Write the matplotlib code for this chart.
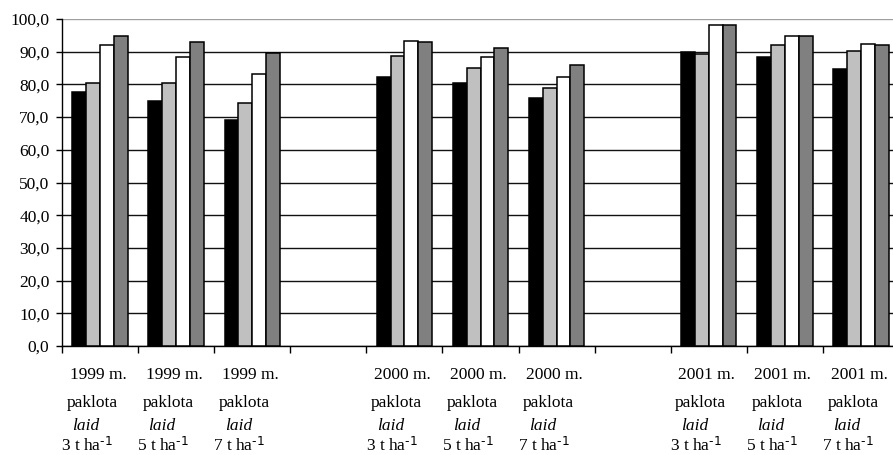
import numpy as np
import matplotlib
matplotlib.use("Agg")
import matplotlib.pyplot as plt

plt.rcParams["font.family"] = ["Liberation Serif", "DejaVu Serif"]
plt.rcParams["mathtext.default"] = "regular"

# data
years = ["1999 m.", "1999 m.", "1999 m.",
         "2000 m.", "2000 m.", "2000 m.",
         "2001 m.", "2001 m.", "2001 m."]
doses = [r"3 t ha$^{\text{-1}}$", r"5 t ha$^{\text{-1}}$", r"7 t ha$^{\text{-1}}$"] * 3
series_black = [77.8, 75.0, 69.0, 82.3, 80.5, 75.8, 89.9, 88.5, 84.7]
series_light = [80.5, 80.5, 74.4, 88.7, 85.0, 79.0, 89.4, 92.0, 90.2]
series_white = [92.0, 88.3, 83.2, 93.4, 88.3, 82.3, 98.1, 94.8, 92.5]
series_dark = [94.9, 93.0, 89.7, 93.0, 91.0, 85.8, 98.1, 94.8, 92.0]
yticks = np.arange(0, 101, 10)

# one empty slot between years
slots = [0, 1, 2, 4, 5, 6, 8, 9, 10]
n_slots = 11

fig = plt.figure(figsize=(8.93, 4.55), dpi=100)
ax = fig.add_axes([62 / 893, 109 / 455, 837 / 893, 327 / 455])

w = 1 / 5.5
colors = ["#000000", "#c0c0c0", "#ffffff", "#808080"]
all_series = [series_black, series_light, series_white, series_dark]
x = np.array(slots, dtype=float)
for i, (vals, col) in enumerate(zip(all_series, colors)):
    ax.bar(x + (i - 1.5) * w, vals, width=w, color=col,
           edgecolor="#000000", linewidth=1.1, zorder=3)

ax.set_xlim(-0.5, n_slots - 0.5)
ax.set_ylim(0, 100)
ax.set_yticks(yticks)
ax.set_yticklabels([f"{v:.1f}".replace(".", ",") for v in yticks], fontsize=12.5)
ax.grid(True, axis="y", color="#111111", linewidth=1.0, zorder=0)
ax.get_ygridlines()[-1].set_color("#a0a0a0")

ax.set_xticks(np.arange(-0.5, n_slots, 1.0))
ax.set_xticklabels([])
ax.tick_params(axis="x", direction="out", length=5, width=1, color="#000000")
ax.tick_params(axis="y", direction="out", length=4, width=1, color="#000000",
               pad=5)

for s in ["top", "right"]:
    ax.spines[s].set_visible(False)
ax.spines["left"].set_linewidth(1.0)
ax.spines["bottom"].set_linewidth(1.0)

# four-line category labels
trans = ax.get_xaxis_transform()
for sx, yr, ds in zip(slots, years, doses):
    lines = [(yr, "normal", -2, -29), ("paklota", "normal", -8, -57),
             ("laid", "italic", -14, -80), (ds, "normal", -13, -100)]
    for txt, style, dx, dy in lines:
        ax.annotate(txt, xy=(sx, 0), xycoords=trans,
                    xytext=(dx * 0.72, dy * 0.72), textcoords="offset points",
                    ha="center", va="center", fontsize=12.5, style=style,
                    annotation_clip=False)

fig.savefig("out.png", dpi=100)
